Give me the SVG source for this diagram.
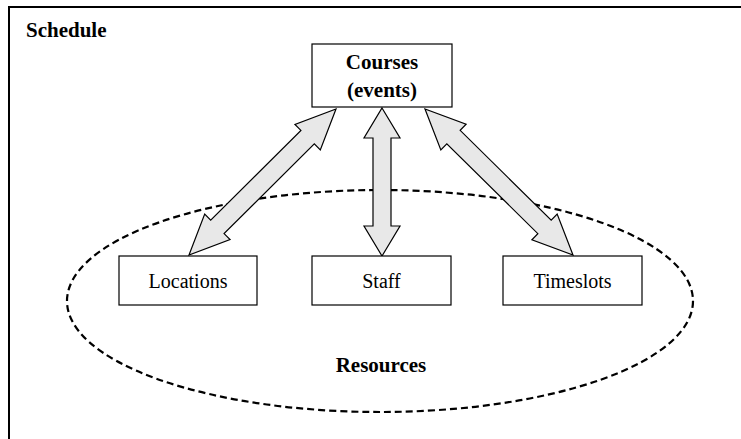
<svg xmlns="http://www.w3.org/2000/svg" width="741" height="439" viewBox="0 0 741 439">
  <style>
    .box { fill: #ffffff; stroke: #000000; stroke-width: 1.2; }
    .frame { fill: #ffffff; stroke: #000000; stroke-width: 2; }
    .pool { fill: none; stroke: #000000; stroke-width: 2.2; stroke-dasharray: 7 4; }
    .arrow { fill: #e8e8e8; stroke: #000000; stroke-width: 1.2; stroke-linejoin: miter; }
    text { font-family: 'Liberation Serif', 'Times New Roman', Times, serif; font-size: 20px; fill: #000000; }
    .bold { font-weight: bold; font-size: 21px; }
    .label { text-anchor: middle; }
  </style>

  <!-- outer schedule frame -->
  <g id="schedule">
    <rect class="frame" x="9" y="7" width="745" height="445"/>
    <text class="bold" x="26" y="37">Schedule</text>
  </g>

  <!-- resource pool -->
  <g id="resources">
    <ellipse class="pool" cx="380" cy="301" rx="313" ry="111"/>
    <text class="bold label" x="381" y="372">Resources</text>
  </g>

  <!-- double-headed block arrows -->
  <g id="connectors">
    <polygon class="arrow" points="336,109 320.30,149.95 314.31,143.92 224.07,233.56 230.06,239.59 189,255 204.70,214.05 210.69,220.08 300.93,130.44 294.94,124.41"/>
    <polygon class="arrow" points="382,108 400,138 391,138 391,226 400,226 382,256 364,226 373,226 373,138 364,138"/>
    <polygon class="arrow" points="425,109 440.84,149.90 446.81,143.85 537.85,233.67 531.88,239.72 573,255 557.16,214.10 551.19,220.15 460.15,130.33 466.12,124.28"/>
  </g>

  <g id="courses">
    <rect class="box" x="312" y="44" width="140" height="63"/>
    <text class="bold label" x="382" y="69">Courses</text>
    <text class="bold label" x="382" y="97">(events)</text>
  </g>

  <g id="locations">
    <rect class="box" x="119" y="256" width="138" height="49"/>
    <text class="label" x="188" y="288">Locations</text>
  </g>

  <g id="staff">
    <rect class="box" x="312" y="256" width="139" height="49"/>
    <text class="label" x="381.5" y="288">Staff</text>
  </g>

  <g id="timeslots">
    <rect class="box" x="503" y="256" width="139" height="49"/>
    <text class="label" x="572.5" y="288">Timeslots</text>
  </g>
</svg>
